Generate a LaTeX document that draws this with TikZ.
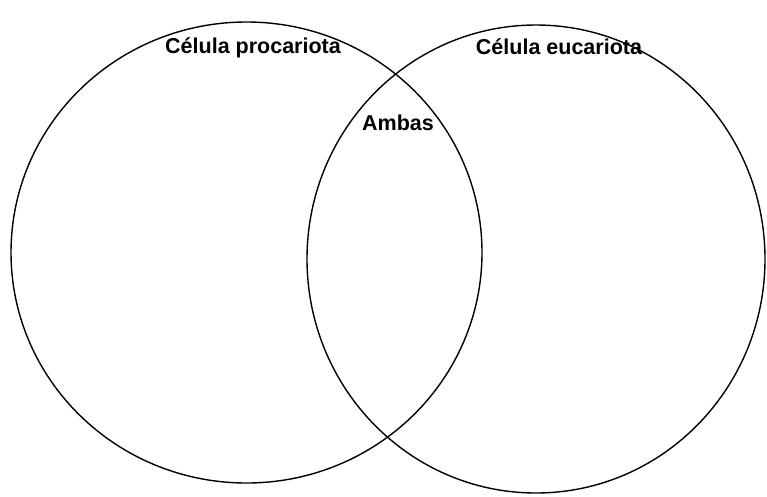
\documentclass[tikz,border=0pt]{standalone}
\usepackage{fontspec}
\setmainfont{Liberation Sans}
\usepackage{tikz}
\usetikzlibrary{shapes.geometric}

\begin{document}
\begin{tikzpicture}[x=1pt,y=-1pt,
  cell/.style={ellipse,draw,line width=1.4pt,inner sep=0pt},
  tag/.style={font=\bfseries\fontsize{21.5}{24}\selectfont,inner sep=0pt,anchor=base}]
  \useasboundingbox (0,0) rectangle (767,496);
  \node[cell,minimum width=471pt,minimum height=461pt] (pro) at (246.5,252.5) {};
  \node[cell,minimum width=458pt,minimum height=468pt] (euc) at (536,259) {};
  \node[tag] (tpro) at (253,53) {Célula procariota};
  \node[tag] (teuc) at (559,54) {Célula eucariota};
  \node[tag] (amb) at (398,130) {Ambas};
\end{tikzpicture}
\end{document}
